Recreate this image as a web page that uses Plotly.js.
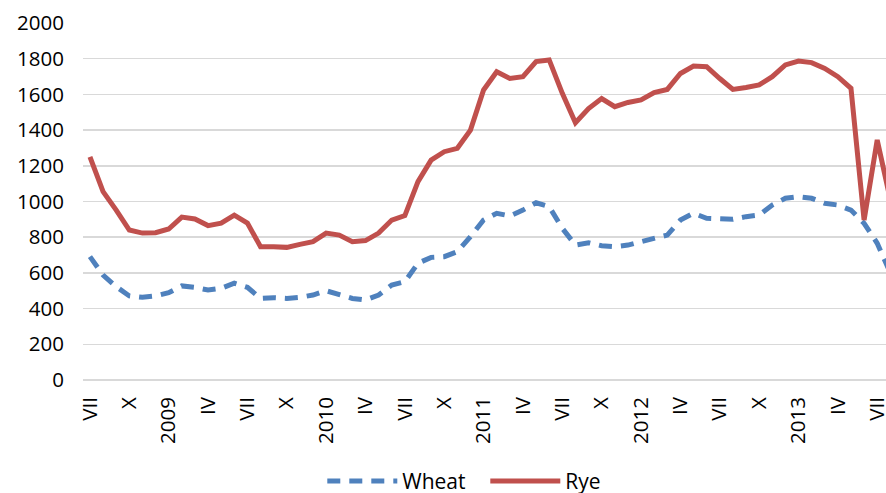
<!DOCTYPE html>
<html>
<head>
<meta charset="utf-8">
<script src="https://cdn.plot.ly/plotly-3.0.1.min.js"></script>
<style>html,body{margin:0;padding:0;background:#fff;}#chart{width:886px;height:493px;}</style>
</head>
<body>
<div id="chart"></div>
<script>
// Month labels, July 2008 .. August 2013 (January shown as the year)
const months = ["VII","VIII","IX","X","XI","XII",
  "2009","II","III","IV","V","VI","VII","VIII","IX","X","XI","XII",
  "2010","II","III","IV","V","VI","VII","VIII","IX","X","XI","XII",
  "2011","II","III","IV","V","VI","VII","VIII","IX","X","XI","XII",
  "2012","II","III","IV","V","VI","VII","VIII","IX","X","XI","XII",
  "2013","II","III","IV","V","VI","VII","VIII"];

const wheat = [691,588,523,471,463,471,489,527,519,504,
  514,542,519,457,461,457,463,476,500,482,
  457,448,476,532,551,654,687,691,719,803,
  896,934,919,952,993,971,850,756,769,752,
  747,756,775,794,812,896,934,906,902,900,
  915,924,980,1018,1027,1018,990,980,952,878,
  766,600];

const rye = [1250,1055,952,840,823,825,846,913,902,865,
  879,924,879,747,747,743,760,775,823,812,
  775,781,823,896,921,1111,1232,1279,1298,1400,
  1625,1727,1689,1699,1784,1793,1606,1441,1521,1577,
  1531,1555,1569,1610,1628,1717,1759,1755,1689,1628,
  1639,1653,1699,1765,1787,1778,1746,1699,1634,896,
  1345,1010];

const idx = months.map((m, i) => i);
const tickIdx = idx.filter(i => i % 3 === 0);
const tickText = tickIdx.map(i => months[i]);

const font = {family: "Open Sans, Noto Sans, sans-serif", size: 20.5, color: "#000"};
const legFont = {family: "Open Sans, Noto Sans, sans-serif", size: 21, color: "#000"};

const traces = [
  {x: idx, y: wheat, name: "Wheat", type: "scatter", mode: "lines",
   line: {color: "#4F81BD", width: 5, dash: "13px,9px"}},
  {x: idx, y: rye, name: "Rye", type: "scatter", mode: "lines",
   line: {color: "#C0504D", width: 5}}
];

const layout = {
  width: 886, height: 493,
  margin: {l: 83, r: 0, t: 23, b: 113, pad: 0, autoexpand: false},
  paper_bgcolor: "#fff", plot_bgcolor: "#fff",
  font: font,
  showlegend: true,
  legend: {orientation: "h", x: 0.298, xanchor: "left", y: -0.284, yanchor: "middle",
           font: legFont, itemwidth: 70, entrywidth: 78, entrywidthmode: "pixels",
           bgcolor: "rgba(0,0,0,0)"},
  xaxis: {range: [-0.53, 60.67], tickmode: "array", tickvals: tickIdx, ticktext: tickText,
          tickangle: -90, showgrid: false, zeroline: false, showline: false, automargin: false,
          ticks: "", ticklabelstandoff: 12, ticklabeloverflow: "allow", tickfont: font},
  yaxis: {range: [0, 2000], dtick: 200, tick0: 0, showgrid: true, gridcolor: "#D9D9D9",
          gridwidth: 1.5, zeroline: true, zerolinecolor: "#D9D9D9", zerolinewidth: 1.5,
          showline: false, ticks: "", ticklabelstandoff: 18, tickfont: font, automargin: false}
};

Plotly.newPlot("chart", traces, layout, {displayModeBar: false, staticPlot: true});
</script>
</body>
</html>
